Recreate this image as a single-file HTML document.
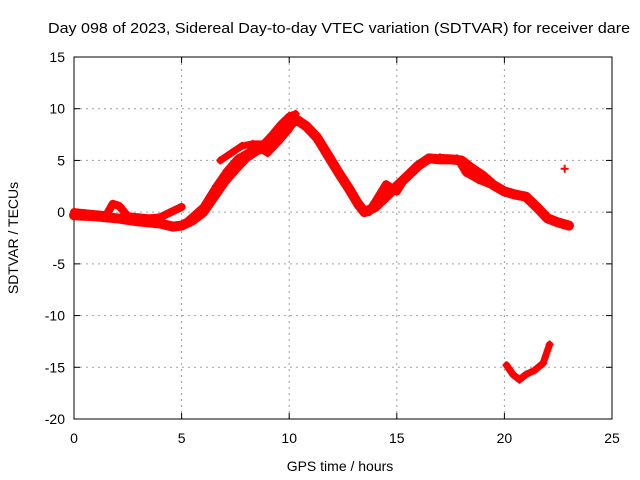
<!DOCTYPE html>
<html><head><meta charset="utf-8"><style>
body{margin:0;background:#fff;}
svg{display:block;font-family:"Liberation Sans",sans-serif;}
</style></head><body>
<svg width="640" height="480">
<rect width="640" height="480" fill="#fff"/>
<g id="grid"></g>
<g id="axes"></g>
<g id="series"></g>
<text x="48" y="33" font-size="15" textLength="582" lengthAdjust="spacingAndGlyphs">Day 098 of 2023, Sidereal Day-to-day VTEC variation (SDTVAR) for receiver dare</text>
<text x="340" y="471" font-size="14" text-anchor="middle">GPS time / hours</text>
<text transform="translate(18,238) rotate(-90)" font-size="14" text-anchor="middle">SDTVAR / TECUs</text>
</svg>
<script>
const xTicks=[0,5,10,15,20,25];
const yTicks=[15,10,5,0,-5,-10,-15,-20];
const traceMainX=[0,1,2,3,4,4.6,5,5.5,6,6.5,7,7.5,8,8.5,9,9.5,10,10.3,10.8,11.3,11.8,12.3,12.8,13.2,13.5,14,14.5,15,15.5,16,16.5,17,17.5,18,18.5,19,19.5,20,20.5,21,21.5,22,22.5,23];
const traceMainY=[-0.3,-0.4,-0.6,-0.9,-1.1,-1.4,-1.3,-0.8,0,1.5,3,4.2,5.3,6,6.3,7,8.3,9,8.3,7.2,5.5,3.8,2.2,0.8,0,0.5,1.5,2.5,3.5,4.5,5.2,5.1,5.1,5,4.2,3.5,2.6,2,1.7,1.5,0.5,-0.6,-1,-1.3];
const traceUpperX=[6.8,7.3,7.8,8.3,8.8,9.2,9.6,10,10.3];
const traceUpperY=[5,5.7,6.4,6.6,6.6,7.5,8.5,9.3,9.5];
const traceMidX=[5.3,6,6.6,7.1,7.6,8.1,8.6,9,9.5,10];
const traceMidY=[-0.8,0.5,2.5,4,5.2,5.8,6.2,5.7,6.8,8];
const traceEarlyX=[0,0.5,1.5,1.8,2.1,2.5,3,3.5,4,4.5,5];
const traceEarlyY=[0,-0.1,-0.3,0.8,0.6,-0.4,-0.5,-0.6,-0.5,0,0.5];
const traceLoopX=[13.7,14,14.5,15,15.3,15.6];
const traceLoopY=[0,1,2.7,2,3,3.6];
const traceLoop2X=[17,17.8,18.2,18.8,19.5];
const traceLoop2Y=[5.3,5.2,3.8,3.1,2.5];
const traceLowX=[20.1,20.4,20.7,21,21.4,21.8,22.1];
const traceLowY=[-14.8,-15.7,-16.2,-15.7,-15.3,-14.6,-12.8];
const isoX=[22.8];
const isoY=[4.2];
const X0=74,X1=612,Y0=419,Y1=57;
const sx=v=>X0+(v-0)/25*(X1-X0);
const sy=v=>Y0-(v+20)/35*(Y0-Y1);
const NS='http://www.w3.org/2000/svg';
function mk(tag,attrs,parent){const e=document.createElementNS(NS,tag);for(const k in attrs)e.setAttribute(k,attrs[k]);parent.appendChild(e);return e;}
const grid=document.getElementById('grid'),axes=document.getElementById('axes'),series=document.getElementById('series');
xTicks.forEach(t=>{const x=sx(t);
 if(t>0&&t<25){const l=mk('line',{x1:x,y1:Y1,x2:x,y2:Y0,stroke:'#a0a0a0','stroke-dasharray':'2,4'},grid);
 
 }
 mk('line',{x1:x,y1:Y0,x2:x,y2:Y0-6,stroke:'#000'},axes);mk('line',{x1:x,y1:Y1,x2:x,y2:Y1+6,stroke:'#000'},axes);
 const tx=mk('text',{x:x,y:Y0+24,'font-size':14,'text-anchor':'middle'},axes);tx.textContent=t;
 
 });
yTicks.forEach(t=>{const y=sy(t);
 if(t>-20&&t<15){const l=mk('line',{x1:X0,y1:y,x2:X1,y2:y,stroke:'#a0a0a0','stroke-dasharray':'2,4'},grid);
 
 }
 mk('line',{x1:X0,y1:y,x2:X0+6,y2:y,stroke:'#000'},axes);mk('line',{x1:X1,y1:y,x2:X1-6,y2:y,stroke:'#000'},axes);
 const tx=mk('text',{x:X0-9,y:y+5,'font-size':14,'text-anchor':'end'},axes);tx.textContent=t;
 
 });
const fr=mk('rect',{x:X0,y:Y1,width:X1-X0,height:Y0-Y1,fill:'none',stroke:'#000'},axes);


function trace(xs,ys,name,w){
 const p=mk('polyline',{points:xs.map((v,i)=>sx(v)+','+sy(ys[i])).join(' '),fill:'none',stroke:'#f00','stroke-width':w,'stroke-linejoin':'round','stroke-linecap':'round'},series);
 
 
 xs.forEach((v,i)=>{const g=mk('path',{d:`M${sx(v)-4},${sy(ys[i])}h8M${sx(v)},${sy(ys[i])-4}v8`,stroke:'#f00','stroke-width':2},series);
 
 });
}
trace(traceMainX,traceMainY,'main-trace',10);
trace(traceUpperX,traceUpperY,'upper-trace',7);
trace(traceMidX,traceMidY,'mid-trace',7);
trace(traceEarlyX,traceEarlyY,'early-trace',8);
trace(traceLoopX,traceLoopY,'loop-trace',8);
trace(traceLoop2X,traceLoop2Y,'loop2-trace',7);
trace(traceLowX,traceLowY,'low-trace',7);
trace(isoX,isoY,'isolated-point',2);
</script>
</body></html>
